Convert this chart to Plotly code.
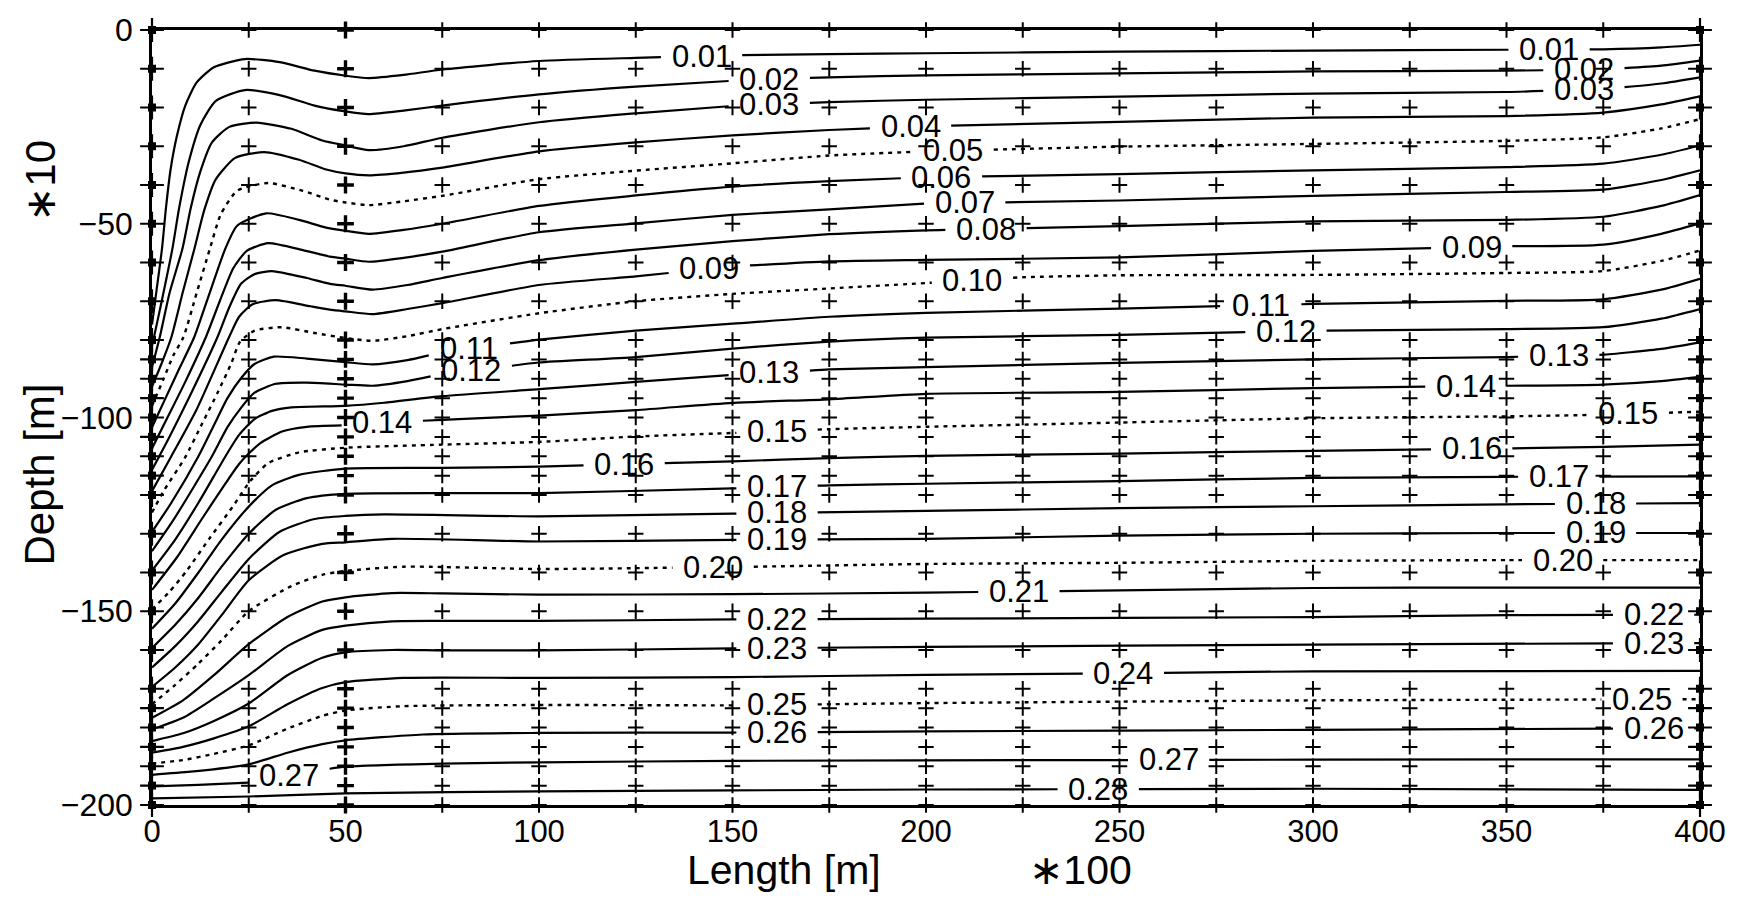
import numpy as np
import plotly.graph_objects as go

# ---- isoline data: (length x, depth y) per contour level ----
c01_x = [0, 1.2, 2.6, 3.6, 4.8, 6.4, 8.6, 11.5, 16, 24, 33, 42, 50, 56, 65, 75, 100, 125, 150, 175, 200, 250, 300, 350, 375, 390, 400]
c01_y = [-76, -67, -56.3, -46, -36, -27.5, -19.5, -13.6, -9.6, -7.5, -8.3, -10.5, -11.8, -12.4, -11.6, -10.2, -8.0, -7.2, -6.5, -6.2, -6.0, -5.6, -5.3, -5.1, -5.0, -4.5, -3.8]

c02_x = [0, 0.5, 2.5, 5.3, 7, 9.5, 12.5, 16.5, 24, 33, 42, 50, 56, 65, 75, 100, 125, 150, 175, 200, 250, 300, 350, 375, 390, 400]
c02_y = [-81.5, -79.3, -70, -56.3, -46, -34, -24.5, -18.3, -15.5, -16.8, -19.5, -21.0, -21.7, -20.8, -19.5, -16.6, -14.6, -13.1, -12.2, -11.7, -11.2, -10.7, -10.5, -10.2, -9.2, -7.9]

c03_x = [0, 2, 4.5, 7.9, 10, 12.5, 15.5, 20, 27, 36, 44, 50, 56, 65, 75, 100, 125, 150, 175, 200, 250, 300, 350, 375, 390, 400]
c03_y = [-87, -79.3, -68, -56.3, -46, -36.5, -29, -25, -23.9, -25.5, -28.5, -29.8, -31.0, -30.0, -27.8, -23.8, -21.5, -19.6, -18.6, -18.0, -17.2, -16.4, -16.0, -15.3, -13.8, -12.2]

c04_x = [0, 2.5, 5, 8, 11, 13.5, 16.5, 21.5, 29, 38, 45, 50, 56, 65, 75, 100, 125, 150, 175, 200, 250, 300, 350, 375, 390, 400]
c04_y = [-92, -86, -79.3, -67.5, -56.3, -46.5, -38.5, -33, -31.5, -33.5, -36, -37.0, -37.5, -36.8, -35.5, -31.3, -29.0, -27.2, -25.8, -24.8, -23.7, -22.6, -22.2, -21.3, -19.2, -17.1]

c05_x = [0, 3, 5.5, 8.1, 11.5, 15, 17.8, 22, 30, 39, 46, 50, 56, 65, 75, 100, 125, 150, 175, 200, 250, 300, 350, 375, 390, 400]
c05_y = [-97, -90, -84, -79.3, -68, -56.3, -47.5, -41.5, -39.5, -41.5, -43.8, -44.5, -45.2, -44.2, -42.8, -38.5, -36.3, -34.4, -32.4, -31.3, -30.1, -29.4, -28.6, -27.7, -25.4, -23.0]

c06_x = [0, 3.5, 7, 10.9, 14.5, 19, 22, 29.5, 38, 45, 50, 56, 65, 75, 100, 125, 150, 175, 200, 250, 300, 350, 375, 390, 400]
c06_y = [-102.5, -95, -87.5, -79.3, -69, -56.3, -50.5, -47.3, -49, -51, -51.8, -52.6, -51.6, -50.0, -45.4, -42.7, -40.4, -39.0, -38.0, -37.2, -36.2, -35.4, -34.5, -32.2, -29.8]

c07_x = [0, 4, 8.5, 13.9, 17.5, 21, 24.5, 30, 39, 46, 50, 56, 65, 75, 100, 125, 150, 175, 200, 250, 300, 350, 375, 390, 400]
c07_y = [-108, -100, -91, -79.3, -70, -61.5, -57, -55, -56.8, -58.5, -59.0, -59.8, -58.8, -57.2, -52.2, -49.9, -47.7, -46.3, -44.8, -44.0, -42.8, -41.8, -41.2, -38.7, -36.2]

c08_x = [0, 4.5, 10, 16.9, 20, 23, 26.5, 31, 40, 46, 50, 57, 66, 75, 100, 125, 150, 175, 200, 250, 300, 350, 375, 390, 400]
c08_y = [-113.5, -105, -94, -79.3, -71.5, -65.5, -63, -62.2, -64, -65.5, -66.0, -67.0, -65.8, -64.0, -59.4, -56.7, -54.5, -52.7, -51.7, -50.6, -49.4, -49.0, -48.2, -45.4, -42.6]

c09_x = [0, 5, 11.5, 19.9, 22.5, 26, 32, 41, 47, 50, 57, 66, 75, 100, 125, 150, 175, 200, 250, 300, 350, 375, 390, 400]
c09_y = [-119, -110, -98, -79.3, -74, -70.8, -69.7, -71.3, -72.3, -72.6, -73.3, -72.0, -70.5, -65.8, -63.6, -61.0, -59.7, -59.3, -58.7, -57.0, -55.8, -55.4, -52.6, -49.9]

c10_x = [0, 3, 8.5, 13, 17, 20.5, 22.7, 26.5, 33.5, 42, 50, 57, 66, 75, 100, 125, 150, 175, 200, 225, 250, 300, 350, 375, 390, 400]
c10_y = [-124.5, -119, -110.4, -101.5, -93.5, -86, -80.5, -77.6, -76.7, -78.2, -79.5, -80.2, -79.0, -77.2, -73.1, -70.0, -68.1, -66.7, -65.3, -63.8, -63.3, -63.2, -62.7, -62.2, -59.6, -56.9]

c11_x = [0, 5, 12, 16, 19.5, 23.3, 26.5, 31.5, 40, 50, 57, 66, 75, 100, 125, 150, 175, 200, 250, 300, 350, 375, 390, 400]
c11_y = [-129.5, -122, -110, -102, -95, -89.5, -86.2, -84.3, -84.8, -85.7, -86.3, -85.2, -83.2, -79.9, -77.6, -75.8, -74.0, -73.0, -71.9, -70.7, -69.9, -69.5, -67.0, -64.2]

c12_x = [0, 5.5, 15.5, 19.5, 23, 26.5, 32, 40, 50, 57, 66, 75, 100, 125, 150, 175, 200, 250, 300, 350, 375, 390, 400]
c12_y = [-134.5, -126.5, -110, -102.5, -97.5, -93.6, -91.3, -91.0, -91.5, -91.8, -90.6, -88.8, -85.8, -84.4, -82.2, -80.4, -79.4, -78.7, -77.6, -77.2, -76.7, -74.5, -72.0]

c13_x = [0, 6, 12, 19, 22.5, 26.5, 31, 36, 50, 60, 75, 100, 125, 150, 175, 200, 250, 300, 350, 375, 390, 400]
c13_y = [-139.5, -131.5, -122, -110, -104.5, -100.4, -98.3, -97.4, -97.0, -96.2, -94.5, -92.7, -90.8, -89.0, -87.6, -87.0, -85.9, -85.0, -84.4, -83.8, -82.3, -80.6]

c14_x = [0, 6.5, 13, 19, 22.5, 25, 28, 33.6, 40, 50, 60, 75, 100, 125, 150, 175, 200, 250, 300, 350, 375, 390, 400]
c14_y = [-144.5, -136, -126, -117, -112, -109.3, -106.6, -103.6, -102.4, -102.0, -101.3, -100.6, -99.5, -98.1, -96.2, -95.3, -93.9, -93.4, -92.4, -91.8, -91.5, -90.6, -89.5]

c15_x = [0, 4.5, 9, 15, 21, 25.3, 30, 38, 50, 75, 100, 125, 150, 175, 200, 250, 300, 350, 375, 400]
c15_y = [-149.5, -145, -139.5, -131, -122.8, -116.5, -111.8, -109, -107.8, -107.0, -106.3, -104.9, -104.0, -103.0, -102.4, -101.3, -100.2, -99.7, -99.3, -98.5]

c16_x = [0, 6, 12, 18, 25, 31, 38, 50, 75, 100, 150, 175, 200, 250, 300, 350, 375, 400]
c16_y = [-154.5, -148, -140, -131.5, -123, -117.5, -114.8, -113.2, -113.0, -112.7, -111.3, -110.5, -109.9, -109.3, -108.6, -108.0, -107.6, -107.0]

c17_x = [0, 6, 12, 18, 25, 32, 40, 50, 100, 150, 175, 200, 250, 300, 350, 400]
c17_y = [-159.5, -153.5, -146.5, -138.5, -130, -123.8, -120.8, -119.7, -119.5, -118.3, -117.5, -117.1, -116.4, -115.6, -115.3, -115.2]

c18_x = [0, 6, 12, 18, 25, 33, 42, 50, 60, 100, 150, 200, 250, 300, 350, 400]
c18_y = [-164.5, -159, -152.5, -145, -136.5, -129.5, -126.2, -125.4, -125.0, -125.5, -124.8, -124.1, -123.4, -122.9, -122.4, -122.1]

c19_x = [0, 6, 12, 18, 25, 34, 44, 50, 62, 100, 150, 200, 250, 300, 350, 400]
c19_y = [-169.5, -164.5, -158.5, -151, -142, -135.5, -132.6, -132.2, -131.3, -132.0, -131.6, -131.3, -130.5, -130.0, -129.8, -129.8]

c20_x = [0, 6, 12, 18, 25, 36, 44, 50, 65, 100, 150, 200, 250, 300, 350, 400]
c20_y = [-174, -169, -163.5, -157.5, -150, -143.5, -140.6, -139.6, -138.5, -139.1, -138.6, -137.8, -137.5, -137.0, -136.8, -136.8]

c21_x = [0, 8, 16, 25, 35, 44, 50, 62, 75, 100, 150, 200, 250, 300, 350, 400]
c21_y = [-177.5, -173, -166.5, -158.5, -151.5, -147.5, -146.4, -145.3, -145.4, -145.7, -145.6, -145.2, -144.6, -144.0, -143.9, -143.9]

c22_x = [0, 8, 16, 25, 35, 44, 50, 62, 75, 100, 150, 200, 300, 350, 400]
c22_y = [-180.5, -177.5, -172.5, -166.5, -159, -154.8, -153.7, -152.6, -152.5, -152.5, -152.1, -151.9, -151.5, -151.0, -150.9]

c23_x = [0, 8, 16, 25, 35, 44, 50, 62, 75, 100, 150, 200, 300, 400]
c23_y = [-183.5, -181.5, -178.3, -173.8, -166.5, -162, -160.6, -160.0, -160.1, -160.1, -159.6, -159.2, -158.6, -158.2]

c24_x = [0, 8, 16, 25, 35, 44, 50, 65, 100, 150, 200, 250, 300, 400]
c24_y = [-186.5, -185, -182.8, -179.7, -174, -169.8, -168.3, -167.2, -167.2, -167.0, -166.4, -166.0, -165.5, -165.4]

c25_x = [0, 8, 16, 25, 35, 44, 50, 65, 100, 150, 200, 300, 400]
c25_y = [-189.3, -188.4, -186.8, -184.6, -180.3, -177, -175.6, -174.5, -174.2, -174.3, -173.7, -173.0, -172.7]

c26_x = [0, 10, 25, 35, 44, 50, 70, 100, 150, 200, 300, 400]
c26_y = [-192.2, -191.4, -189.5, -186.5, -184.3, -183.3, -181.8, -181.4, -181.3, -181.0, -180.6, -180.2]

c27_x = [0, 12, 25, 35, 44, 50, 75, 100, 150, 250, 300, 400]
c27_y = [-195.2, -194.8, -194.2, -192.5, -190.9, -190.1, -189.3, -189.0, -188.6, -188.4, -188.3, -188.2]

c28_x = [0, 25, 50, 100, 200, 300, 400]
c28_y = [-198.3, -197.8, -197.0, -196.5, -196.0, -195.8, -196.1]

LEVELS = [0.01, 0.02, 0.03, 0.04, 0.05, 0.06, 0.07, 0.08, 0.09, 0.10,
          0.11, 0.12, 0.13, 0.14, 0.15, 0.16, 0.17, 0.18, 0.19, 0.20,
          0.21, 0.22, 0.23, 0.24, 0.25, 0.26, 0.27, 0.28]
DOTTED_LEVELS = [0.05, 0.10, 0.15, 0.20, 0.25]

# inline label positions along each line (length coordinate)
LABEL_LEVEL = [0.01, 0.01, 0.02, 0.02, 0.03, 0.03, 0.04, 0.05, 0.06, 0.07, 0.08,
               0.09, 0.09, 0.10, 0.11, 0.11, 0.12, 0.12, 0.13, 0.13, 0.14, 0.14,
               0.15, 0.15, 0.16, 0.16, 0.17, 0.17, 0.18, 0.18, 0.19, 0.19,
               0.20, 0.20, 0.21, 0.22, 0.22, 0.23, 0.23, 0.24, 0.25, 0.25,
               0.26, 0.26, 0.27, 0.27, 0.28]
LABEL_X = [142, 361, 159.5, 370, 159.5, 370, 196, 207, 204, 210, 215.5,
           144, 341, 212, 82, 286.5, 82.5, 293, 159.5, 363.5, 59.5, 339.5,
           161.5, 381.5, 122, 341, 161.5, 363.5, 161.5, 373, 161.5, 373,
           145, 364.5, 224, 161.5, 388, 161.5, 388, 251, 161.5, 385,
           161.5, 388, 35.4, 262.7, 244.5]

# computational mesh nodes
MESH_X = [0, 25, 50, 75, 100, 125, 150, 175, 200, 225, 250, 275, 300, 325, 350, 375, 400]
MESH_DEPTH = [0, -10, -20, -30, -40, -50, -60, -70, -80, -85, -90, -95, -100, -105,
              -110, -115, -120, -130, -140, -150, -160, -170, -175, -180, -185,
              -190, -195, -200]

X_TICKS = [0, 50, 100, 150, 200, 250, 300, 350, 400]
Y_TICKS = [0, -50, -100, -150, -200]
Y_TICK_TEXT = ["0", "\u221250", "\u2212100", "\u2212150", "\u2212200"]

CONTOURS_X = [c01_x, c02_x, c03_x, c04_x, c05_x, c06_x, c07_x, c08_x, c09_x, c10_x,
              c11_x, c12_x, c13_x, c14_x, c15_x, c16_x, c17_x, c18_x, c19_x, c20_x,
              c21_x, c22_x, c23_x, c24_x, c25_x, c26_x, c27_x, c28_x]
CONTOURS_Y = [c01_y, c02_y, c03_y, c04_y, c05_y, c06_y, c07_y, c08_y, c09_y, c10_y,
              c11_y, c12_y, c13_y, c14_y, c15_y, c16_y, c17_y, c18_y, c19_y, c20_y,
              c21_y, c22_y, c23_y, c24_y, c25_y, c26_y, c27_y, c28_y]

FONT = "Liberation Sans, Arial, Helvetica, sans-serif"
LABEL_HALF_GAP = 10.5  # half width of the break left in a line for its label


def broken_line(xs, ys, centres, half):
    """Return x/y with None breaks where inline labels sit."""
    xs = np.asarray(xs, float)
    ys = np.asarray(ys, float)
    bounds = [xs[0]]
    for c in sorted(centres):
        bounds += [max(c - half, xs[0]), min(c + half, xs[-1])]
    bounds.append(xs[-1])
    out_x, out_y = [], []
    for lo, hi in zip(bounds[0::2], bounds[1::2]):
        if hi <= lo:
            continue
        inner = (xs > lo) & (xs < hi)
        seg_x = [lo] + xs[inner].tolist() + [hi]
        seg_y = [float(np.interp(lo, xs, ys))] + ys[inner].tolist() + [float(np.interp(hi, xs, ys))]
        if out_x:
            out_x.append(None)
            out_y.append(None)
        out_x += seg_x
        out_y += seg_y
    return out_x, out_y


fig = go.Figure()

annotations = []
for lev, cx, cy in zip(LEVELS, CONTOURS_X, CONTOURS_Y):
    centres = [x for l, x in zip(LABEL_LEVEL, LABEL_X) if abs(l - lev) < 1e-9]
    bx, by = broken_line(cx, cy, centres, LABEL_HALF_GAP)
    dotted = any(abs(lev - d) < 1e-9 for d in DOTTED_LEVELS)
    fig.add_trace(go.Scatter(
        x=bx, y=by, mode="lines",
        line=dict(color="black", width=2.2 if not dotted else 2.4,
                  dash="4px,5px" if dotted else "solid",
                  shape="spline", smoothing=0.6),
        connectgaps=False, hoverinfo="skip", showlegend=False,
    ))
    for xc in centres:
        annotations.append(dict(
            x=xc, y=float(np.interp(xc, cx, cy)), xref="x", yref="y",
            text=f"{lev:.2f}", showarrow=False, xanchor="center", yanchor="middle",
            font=dict(family=FONT, size=31, color="black"),
        ))

# mesh node markers
inner_cols = [x for x in MESH_X if x not in (0, 50, 400)]
gx = [x for x in inner_cols for _ in MESH_DEPTH]
gy = [d for _ in inner_cols for d in MESH_DEPTH]
fig.add_trace(go.Scatter(
    x=gx, y=gy, mode="markers", cliponaxis=False, hoverinfo="skip", showlegend=False,
    marker=dict(symbol="cross-thin", size=11, line=dict(color="black", width=2)),
))
fig.add_trace(go.Scatter(
    x=[50] * len(MESH_DEPTH), y=MESH_DEPTH, mode="markers", cliponaxis=False,
    hoverinfo="skip", showlegend=False,
    marker=dict(symbol="cross-thin", size=12, line=dict(color="black", width=3.4)),
))
edge_x = [0] * len(MESH_DEPTH) + [400] * len(MESH_DEPTH)
edge_y = MESH_DEPTH + MESH_DEPTH
fig.add_trace(go.Scatter(
    x=edge_x, y=edge_y, mode="markers", cliponaxis=False, hoverinfo="skip", showlegend=False,
    marker=dict(symbol="cross-thin", size=17, line=dict(color="black", width=2.2)),
))
fig.add_trace(go.Scatter(
    x=edge_x, y=edge_y, mode="markers", cliponaxis=False, hoverinfo="skip", showlegend=False,
    marker=dict(symbol="square", size=8, color="black", line=dict(width=0)),
))

L, R, T, B = 152, 40, 24, 96
W, H = 1740, 901
PW, PH = W - L - R, H - T - B


def paper_x(px):
    return (px - L) / PW


def paper_y(py):
    return (H - B - py) / PH


for txt, px, py, ang, size in [
    ("Depth [m]", 40, 472, -90, 42),
    ("\u221710", 41, 176, -90, 42),
    ("Length [m]", 784, 870, 0, 41),
    ("\u2217100", 1080, 870, 0, 41),
]:
    annotations.append(dict(
        x=paper_x(px), y=paper_y(py), xref="paper", yref="paper", text=txt,
        showarrow=False, xanchor="center", yanchor="middle", textangle=ang,
        font=dict(family=FONT + ", DejaVu Sans", size=size, color="black"),
    ))

fig.update_layout(
    width=W, height=H,
    margin=dict(l=L, r=R, t=T, b=B, pad=0),
    paper_bgcolor="white", plot_bgcolor="white",
    annotations=annotations,
    xaxis=dict(range=[0, 400], tickvals=X_TICKS, ticks="", showgrid=False, zeroline=False,
               showline=True, mirror=True, linecolor="black", linewidth=2.5,
               ticklabelstandoff=-3, tickfont=dict(family=FONT, size=31, color="black")),
    yaxis=dict(range=[-200, 0], tickvals=Y_TICKS, ticktext=Y_TICK_TEXT, ticks="",
               showgrid=False, zeroline=False, showline=True, mirror=True,
               linecolor="black", linewidth=2.5, ticklabelstandoff=10,
               tickfont=dict(family=FONT, size=32, color="black")),
)

fig.write_html("out.html")
